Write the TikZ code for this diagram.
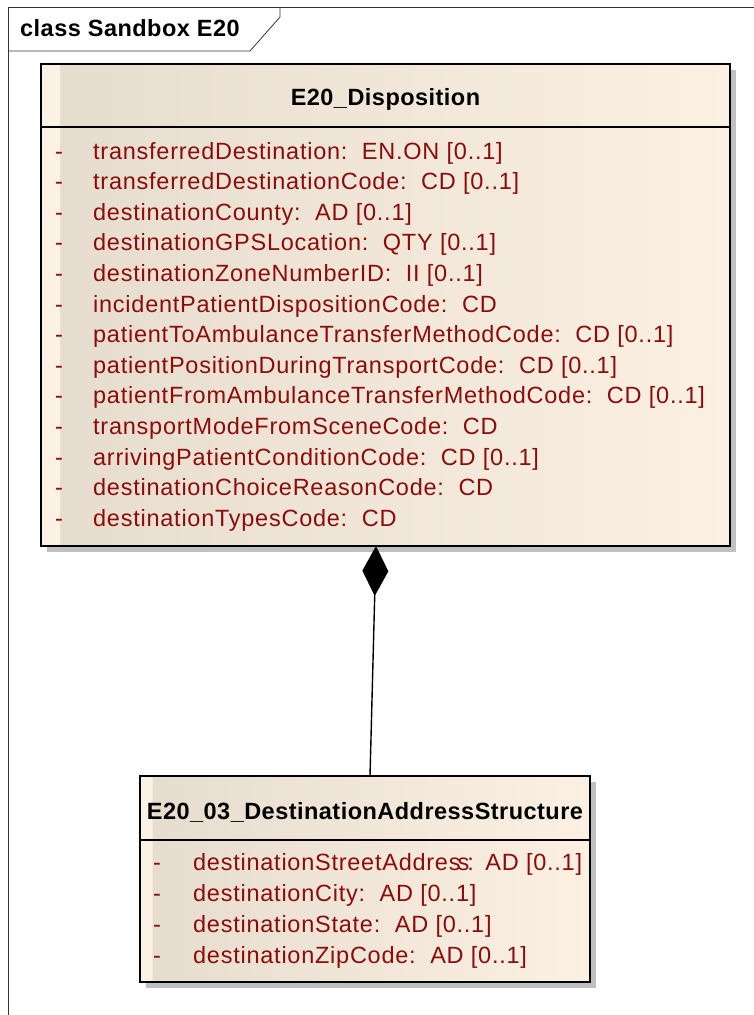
\documentclass[tikz,border=0pt]{standalone}
\usepackage{fontspec}
\setmainfont{Liberation Sans}
\usetikzlibrary{arrows.meta}
\definecolor{attr}{RGB}{140,12,12}
\definecolor{beigeA}{RGB}{251,241,228}
\definecolor{beigeB}{RGB}{231,221,207}
\definecolor{beigeC}{RGB}{251,240,226}
\definecolor{shadowc}{RGB}{192,192,192}
\pgfdeclarehorizontalshading{umlfill}{100bp}{color(0bp)=(beigeA); color(25bp)=(beigeA); color(26.3bp)=(beigeA); color(26.4bp)=(beigeB); color(75bp)=(beigeC); color(100bp)=(beigeC)}
\newfontfamily\attrfont[LetterSpace=3.2]{Liberation Sans}
\newfontfamily\titlefont[LetterSpace=2.0]{Liberation Sans}
\tikzset{
  classbox/.style={rectangle, draw=black, line width=1.6pt, shading=umlfill, inner sep=0pt},
  shadowbox/.style={fill=shadowc, draw=none},
  attrtext/.style={anchor=base west, text=attr, font=\attrfont\fontsize{23.5}{27}\selectfont, inner sep=0pt},
  titletext/.style={font=\titlefont\bfseries\fontsize{23.5}{27}\selectfont, inner sep=0pt},
  framel/.style={draw=black!80, line width=0.8pt},
}
\begin{document}
\begin{tikzpicture}[x=1pt,y=-1pt]
\useasboundingbox (0,0) rectangle (754,1015);
% frame
\draw[framel] (754,7) -- (8,7) -- (8,1015);
\draw[framel] (8,51) -- (250,51) -- (280,17) -- (280,7);
\node[titletext, anchor=west] (frametitle) at (20,28) {class Sandbox E20};
% top class
\fill[shadowbox] (47,70) rectangle (736,552);
\node[classbox, minimum width=689pt, minimum height=482pt] (disp) at (385.5,305) {};
\draw[line width=1.6pt] (41,127) -- (730,127);
\node[titletext] (disptitle) at (385.5,99) {E20\_Disposition};
\foreach \i/\t in {0/{transferredDestination:\ \ EN.ON [0..1]},
  1/{transferredDestinationCode:\ \ CD [0..1]},
  2/{destinationCounty:\ \ AD [0..1]},
  3/{destinationGPSLocation:\ \ QTY [0..1]},
  4/{destinationZoneNumberID:\ \ II [0..1]},
  5/{incidentPatientDispositionCode:\ \ CD},
  6/{patientToAmbulanceTransferMethodCode:\ \ CD [0..1]},
  7/{patientPositionDuringTransportCode:\ \ CD [0..1]},
  8/{patientFromAmbulanceTransferMethodCode:\ \ CD [0..1]},
  9/{transportModeFromSceneCode:\ \ CD},
  10/{arrivingPatientConditionCode:\ \ CD [0..1]},
  11/{destinationChoiceReasonCode:\ \ CD},
  12/{destinationTypesCode:\ \ CD}} {
  \node[attrtext] (dm\i) at (55,159+30.6*\i) {-};
  \node[attrtext] (da\i) at (93,159+30.6*\i) {\t};
}
% bottom class
\fill[shadowbox] (146,782) rectangle (596,988);
\node[classbox, minimum width=450pt, minimum height=206pt] (addr) at (365,879) {};
\draw[line width=1.6pt] (140,840) -- (590,840);
\node[titletext] (addrtitle) at (365,812) {E20\_03\_DestinationAddressStructure};
\foreach \i/\t in {0/{destinationStreetAddres\kern-3pt s\kern-2pt:\kern-3pt\ \ AD [0..1]},
  1/{destinationCity:\ \ AD [0..1]},
  2/{destinationState:\ \ AD [0..1]},
  3/{destinationZipCode:\ \ AD [0..1]}} {
  \node[attrtext] (am\i) at (153,870+31*\i) {-};
  \node[attrtext] (aa\i) at (193,870+31*\i) {\t};
}
% composition
\coordinate (compA) at (376,546);
\coordinate (compB) at (370,776);
\draw[line width=1.4pt, {Diamond[length=50pt,width=26pt,fill=black]}-] (compA) -- (compB);
\end{tikzpicture}
\end{document}
